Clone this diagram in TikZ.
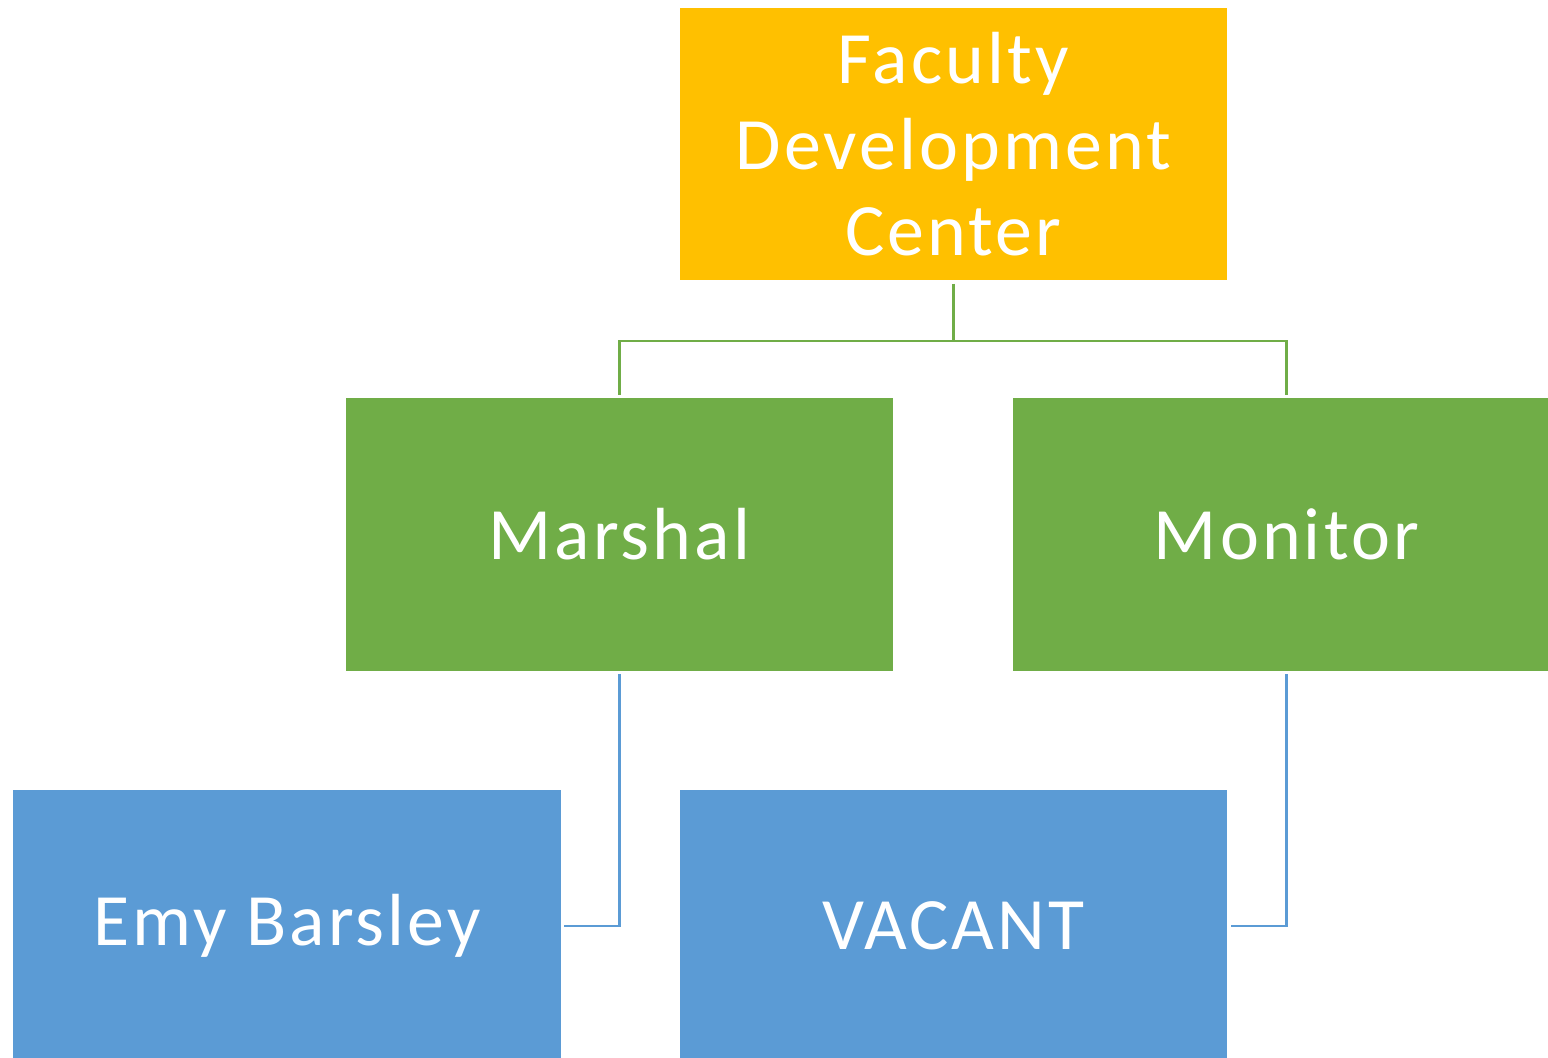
\documentclass[tikz,border=0pt]{standalone}
\usepackage{fontspec}
\setmainfont{Carlito}[LetterSpace=4.2]
\usetikzlibrary{positioning}
\definecolor{fdcgold}{HTML}{FFC000}
\definecolor{orggreen}{HTML}{70AD47}
\definecolor{orgblue}{HTML}{5B9BD5}
\begin{document}
\begin{tikzpicture}[x=0.01cm,y=0.01cm,
    unit/.style={rectangle, minimum width=5.47cm, minimum height=2.72cm, inner sep=0pt,
      text=white, align=center, font=\fontsize{21}{24.5}\selectfont},
    link/.style={line width=0.6pt, shorten <=0.03cm, shorten >=0.03cm}]
		\useasboundingbox (0,0) rectangle (1548,1058);
		\clip (0,0) rectangle (1548,1058);
		
		\node[unit, fill=fdcgold] (fdc) at (953.5,914) {Faculty\\Development\\Center};
		\node[unit, fill=orggreen] (marshal) at (619.5,523.5) {Marshal};
		\node[unit, fill=orggreen] (monitor) at (1286.5,523.5) {Monitor};
		\node[unit, fill=orgblue] (emy) at (287,132) {Emy Barsley};
		\node[unit, fill=orgblue] (vacant) at (953.5,132) {VACANT};
		
		\draw[link, orggreen] (fdc.south) -- ++(0,-60) -| (marshal.north);
		\draw[link, orggreen] (fdc.south) -- ++(0,-60) -| (monitor.north);
		\draw[link, orgblue] (marshal.south) |- (emy.east);
		\draw[link, orgblue] (monitor.south) |- (vacant.east);
	\end{tikzpicture}
\end{document}
